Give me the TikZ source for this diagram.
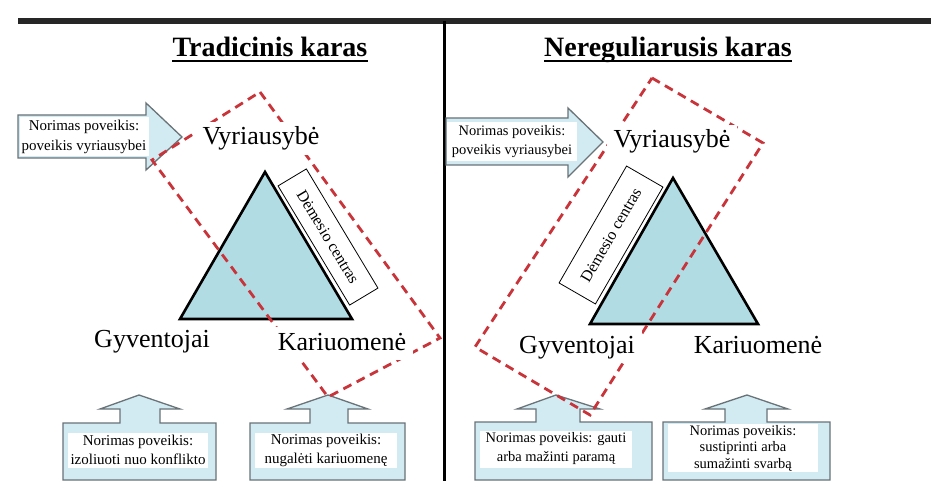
\documentclass[tikz,border=0pt]{standalone}
\usepackage{fontspec}
\setmainfont{Liberation Serif}
\definecolor{triblue}{RGB}{178,220,228}
\definecolor{arrowblue}{RGB}{210,235,243}
\definecolor{arrowgray}{RGB}{105,115,120}
\definecolor{focusred}{RGB}{200,52,58}
\definecolor{darkline}{RGB}{38,38,38}
\begin{document}
\begin{tikzpicture}[x=1pt,y=-1pt,
  arrowshape/.style={draw=arrowgray, fill=arrowblue, line width=1.3pt, line join=miter},
  tri/.style={draw=black, fill=triblue, line width=2.6pt, line join=miter},
  focus/.style={draw=focusred, line width=2.8pt, dash pattern=on 9pt off 6pt},
  biglbl/.style={fill=white, anchor=base, font=\fontsize{26}{30}\selectfont, inner xsep=7pt, inner ysep=4pt, text height=19pt, text depth=6pt},
  smalltxt/.style={fill=white, align=center, inner sep=1pt},
  titletxt/.style={anchor=base, font=\fontsize{28}{32}\selectfont\bfseries, inner sep=0pt},
  dbox/.style={draw=black, fill=white, line width=0.8pt, font=\fontsize{16}{18}\selectfont, inner sep=0pt}
]
\useasboundingbox (0,0) rectangle (931,481);
\fill[white] (0,0) rectangle (931,481);

% frame lines
\coordinate (tl) at (18,21);
\coordinate (tr) at (931,21);
\coordinate (dtop) at (444,21);
\coordinate (dbot) at (444,481);
\draw[darkline, line width=6pt] (tl) -- (tr);
\draw[black, line width=3pt] (dtop) -- (dbot);

% titles
\node[titletxt] (t1) at (270,57) {Tradicinis karas};
\node[titletxt] (t2) at (668,57) {Nereguliarusis karas};
\draw[line width=1.6pt] ([yshift=-4pt]t1.base west) -- ([yshift=-4pt]t1.base east);
\draw[line width=1.6pt] ([yshift=-4pt]t2.base west) -- ([yshift=-4pt]t2.base east);

% side arrows
\draw[arrowshape] (18,115) -- (146,115) -- (146,103) -- (182,137) -- (146,170) -- (146,158) -- (18,158) -- cycle;
\draw[arrowshape] (446,118) -- (568,118) -- (568,108) -- (603,142) -- (568,177) -- (568,165) -- (446,165) -- cycle;

% bottom arrows
\draw[arrowshape] (63,480) -- (63,423) -- (120,423) -- (120,409) -- (100,409) -- (139,395) -- (180,409) -- (160,409) -- (160,423) -- (216,423) -- (216,480) -- cycle;
\draw[arrowshape] (250,480) -- (250,423) -- (310,423) -- (310,409) -- (287,409) -- (328,395) -- (368,409) -- (348,409) -- (348,423) -- (405,423) -- (405,480) -- cycle;
\draw[arrowshape] (475,480) -- (475,422) -- (536,422) -- (536,409) -- (517,409) -- (556,395) -- (600,409) -- (580,409) -- (580,422) -- (652,422) -- (652,480) -- cycle;
\draw[arrowshape] (663,480) -- (663,422) -- (725,422) -- (725,409) -- (705,409) -- (747,395) -- (788,409) -- (767,409) -- (767,422) -- (830,422) -- (830,480) -- cycle;

% triangles
\coordinate (la) at (265,172);
\coordinate (lb1) at (180,319);
\coordinate (lb2) at (352,319);
\coordinate (ra) at (673,178);
\coordinate (rb1) at (590,324);
\coordinate (rb2) at (758,324);
\draw[tri] (la) -- (lb2) -- (lb1) -- cycle;
\draw[tri] (ra) -- (rb2) -- (rb1) -- cycle;

% centre-of-gravity dashed frames
\coordinate (lfT) at (260,92);
\coordinate (lfR) at (440,338);
\coordinate (lfB) at (328,397);
\coordinate (lfL) at (152,160);
\coordinate (rfT) at (652,78);
\coordinate (rfR) at (763,143);
\coordinate (rfB) at (590,415);
\coordinate (rfL) at (475,347);
\draw[focus] (lfT) -- (lfR) -- (lfB) -- (lfL) -- cycle;
\draw[focus] (rfT) -- (rfR) -- (rfB) -- (rfL) -- cycle;

% labels
\node[biglbl] (lgov) at (261,145) {Vyriausybė};
\node[biglbl] (rgov) at (672,148) {Vyriausybė};
\node[biglbl] (lpop) at (152,347) {Gyventojai};
\node[biglbl] (lmil) at (342,350) {Kariuomenė};
\node[biglbl] (rpop) at (577,353) {Gyventojai};
\node[biglbl] (rmil) at (758,353) {Kariuomenė};

% focus boxes
\node[dbox, rotate=-59, minimum width=139pt, minimum height=33pt] (ldem) at (328,237) {Dėmesio centras};
\node[dbox, rotate=60, minimum width=135pt, minimum height=42pt] (rdem) at (611,235) {Dėmesio centras};

% arrow texts
\node[smalltxt, font=\fontsize{15}{20}\selectfont, minimum width=129pt, minimum height=39pt] (lat) at (84,137) {Norimas poveikis:\\poveikis vyriausybei};
\node[smalltxt, font=\fontsize{14.5}{19}\selectfont, minimum width=130pt, minimum height=39pt] (rat) at (512,142) {Norimas poveikis:\\poveikis vyriausybei};
\node[smalltxt, font=\fontsize{15}{19}\selectfont, minimum width=140pt, minimum height=35pt] (b1) at (138,450) {Norimas poveikis:\\izoliuoti nuo konflikto};
\node[smalltxt, font=\fontsize{15}{19}\selectfont, minimum width=142pt, minimum height=35pt] (b2) at (326,450) {Norimas poveikis:\\nugalėti kariuomenę};
\node[smalltxt, font=\fontsize{14.5}{19}\selectfont, minimum width=152pt, minimum height=37pt] (b3) at (556,449) {Norimas poveikis: gauti\\arba mažinti paramą};
\node[smalltxt, font=\fontsize{14.5}{16.5}\selectfont, minimum width=150pt, minimum height=47pt] (b4) at (743,448) {Norimas poveikis:\\sustiprinti arba\\sumažinti svarbą};
\end{tikzpicture}
\end{document}
